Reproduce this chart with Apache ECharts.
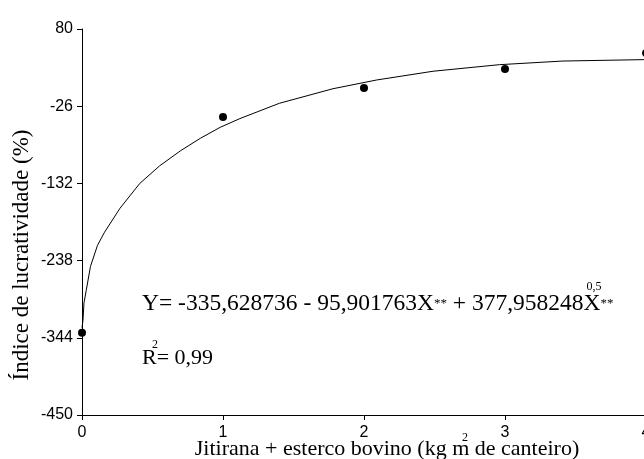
<!DOCTYPE html>
<html>
<head>
<meta charset="utf-8">
<script src="https://cdn.jsdelivr.net/npm/echarts@6/dist/echarts.min.js"></script>
<style>
  html, body { margin: 0; padding: 0; background: #fff; }
  #main { width: 644px; height: 459px; }
</style>
</head>
<body>
<div id="main"></div>
<script>
const obsX = [0, 1, 2, 3, 4];
const obsY = [-337, -41, -1, 25, 47];

// fitted curve
const curveX = [0, 0.007, 0.014, 0.03, 0.06, 0.11, 0.16, 0.27, 0.41, 0.55, 0.7, 0.84, 0.98, 1.12, 1.4, 1.78, 2.09, 2.49, 2.96, 3.41, 4];
const curveY = [-330, -320, -296, -279, -246, -217, -199, -166, -132, -108, -87, -70, -55, -43, -22, -2, 10, 22, 31, 36, 38];

const yMin = -450, yMax = 80, yStep = 106;
const xMin = 0, xMax = 4, xStep = 1;

const serif = '"Liberation Serif", "Times New Roman", serif';
const sans = '"Liberation Sans", Arial, sans-serif';

const chartDom = document.getElementById('main');
const myChart = echarts.init(chartDom);

const option = {
  animation: false,
  backgroundColor: '#fff',
  grid: { left: 82, right: -2, top: 29, bottom: 44, containLabel: false, outerBoundsMode: 'none' },
  xAxis: {
    type: 'value',
    min: xMin, max: xMax, interval: xStep,
    axisLine: { onZero: false, lineStyle: { color: '#000', width: 1 } },
    axisTick: { show: true, length: 5, lineStyle: { color: '#000' } },
    axisLabel: { color: '#000', fontFamily: sans, fontSize: 16, margin: 10, hideOverlap: false },
    splitLine: { show: false }
  },
  yAxis: {
    type: 'value',
    min: yMin, max: yMax, interval: yStep,
    axisLine: { show: true, onZero: false, lineStyle: { color: '#000', width: 1 } },
    axisTick: { show: true, length: 5, lineStyle: { color: '#000' } },
    axisLabel: { color: '#000', fontFamily: sans, fontSize: 16, margin: 9 },
    splitLine: { show: false }
  },
  series: [
    {
      type: 'line',
      data: curveX.map((x, i) => [x, curveY[i]]),
      smooth: false,
      showSymbol: false,
      lineStyle: { color: '#000', width: 1 },
      z: 2
    },
    {
      type: 'scatter',
      data: obsX.map((x, i) => [x, obsY[i]]),
      symbolSize: 8,
      itemStyle: { color: '#000', opacity: 1 },
      z: 3
    }
  ],
  graphic: [
    {
      type: 'text', x: 22, y: 255, rotation: Math.PI / 2,
      style: { text: 'Índice de lucratividade (%)', fill: '#000', font: '23px ' + serif, textAlign: 'center', textVerticalAlign: 'middle' }
    },
    {
      type: 'text', x: 387, y: 449,
      style: { text: 'Jitirana + esterco bovino (kg m de canteiro)', fill: '#000', font: '22px ' + serif, textAlign: 'center', textVerticalAlign: 'middle' }
    },
    {
      type: 'text', x: 465, y: 438,
      style: { text: '2', fill: '#000', font: '12px ' + serif, textAlign: 'center', textVerticalAlign: 'middle' }
    },
    {
      type: 'text', x: 142, y: 304,
      style: {
        text: '{a|Y= -335,628736 - 95,901763X}{b|**}{a| + 377,958248X}{b|**}',
        fill: '#000', textAlign: 'left', textVerticalAlign: 'middle',
        rich: {
          a: { fontSize: 23.5, fontFamily: serif, color: '#000' },
          b: { fontSize: 13, fontFamily: serif, color: '#000' }
        }
      }
    },
    {
      type: 'text', x: 594, y: 287,
      style: { text: '0,5', fill: '#000', font: '12px ' + serif, textAlign: 'center', textVerticalAlign: 'middle' }
    },
    {
      type: 'text', x: 142, y: 358,
      style: { text: 'R= 0,99', fill: '#000', font: '22px ' + serif, textAlign: 'left', textVerticalAlign: 'middle' }
    },
    {
      type: 'text', x: 155, y: 345,
      style: { text: '2', fill: '#000', font: '12px ' + serif, textAlign: 'center', textVerticalAlign: 'middle' }
    }
  ]
};

option && myChart.setOption(option);
</script>
</body>
</html>
